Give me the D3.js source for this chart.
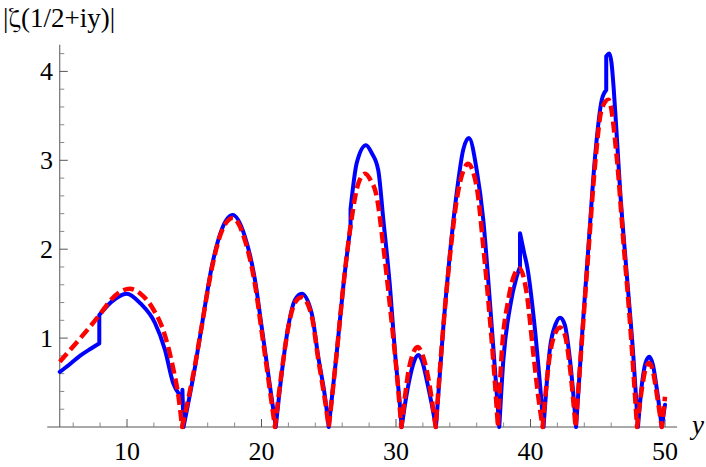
<!DOCTYPE html>
<html>
<head>
<meta charset="utf-8">
<script src="https://cdn.jsdelivr.net/npm/d3@7"></script>
<style>
  html, body { margin: 0; padding: 0; background: #fff; }
  svg { display: block; }
</style>
</head>
<body>
<svg id="chart" width="706" height="467"></svg>
<script>
// ---- data ----
// blue (solid) curve; equal consecutive x values mark a vertical jump
const blueX = [5, 5.7, 6.5, 7.3, 7.94, 7.94, 8.86, 9.98, 11.0, 12.08, 12.82, 13.44, 13.87, 14.12, 14.12, 14.2,
  15.06, 15.55, 16.3, 17.04, 17.86, 18.77, 19.52, 20.01, 20.5, 21.06,
  21.5, 21.99, 22.49, 22.99, 23.73, 24.22, 24.72, 25.0,
  25.59, 26.08, 26.62, 26.62, 27.08, 27.77, 28.2, 28.68, 29.06, 29.55, 29.93, 30.3, 30.42,
  30.75, 31.05, 31.35, 31.66, 31.97, 32.28, 32.6, 32.97,
  33.52, 34.01, 34.51, 35.0, 35.42, 36.0, 36.49, 36.99, 37.36, 37.68,
  37.98, 38.48, 38.97, 39.22, 39.22, 39.54, 39.76, 40.26, 40.74, 40.97,
  41.46, 41.85, 42.2, 42.55, 42.94, 43.39,
  43.81, 44.31, 44.8, 45.3, 45.63, 45.63, 45.87, 46.02, 46.18, 46.38, 46.66, 47.15, 47.65, 47.99,
  48.3, 48.55, 48.83, 49.1, 49.4, 49.76, 50.0];
const blueY = [0.62, 0.70, 0.80, 0.88, 0.94, 1.26, 1.41, 1.50, 1.39, 1.17, 0.87, 0.49, 0.37, 0.33, 0.42, 0,
  0.68, 1.13, 1.80, 2.22, 2.385, 2.14, 1.65, 1.13, 0.60, 0,
  0.60, 1.13, 1.43, 1.50, 1.28, 0.79, 0.34, 0,
  0.83, 1.58, 2.26, 2.45, 2.97, 3.17, 3.08, 2.89, 2.33, 1.58, 0.83, 0.23, 0,
  0.33, 0.57, 0.74, 0.81, 0.73, 0.53, 0.30, 0,
  1.13, 1.95, 2.63, 3.12, 3.25, 2.89, 2.33, 1.39, 0.64, 0,
  0.75, 1.35, 1.69, 1.80, 2.18, 1.95, 1.80, 1.20, 0.42, 0,
  0.90, 1.15, 1.23, 1.15, 0.75, 0,
  0.98, 2.03, 3.04, 3.68, 3.79, 4.17, 4.20, 4.10, 3.82, 3.36, 2.67, 1.73, 0.79, 0,
  0.50, 0.72, 0.79, 0.70, 0.42, 0, 0.25];

// red (dashed) curve
const redX = [5, 8.0, 8.86, 10.2, 11.0, 11.85, 12.84, 13.46, 13.83, 14.1,
  15.06, 15.55, 16.3, 17.04, 17.86, 18.77, 19.52, 20.01, 20.5, 21.0,
  21.5, 21.99, 22.49, 22.99, 23.73, 24.22, 24.72, 25.0,
  25.59, 26.08, 26.62, 27.2, 27.7, 28.1, 28.57, 29.06, 29.56, 30.06, 30.4,
  30.7, 30.92, 31.3, 31.6, 31.95, 32.4, 32.7, 32.95,
  33.52, 34.01, 34.51, 35.0, 35.35, 36.0, 36.49, 36.99, 37.36, 37.58,
  37.86, 38.35, 38.85, 39.17, 39.72, 40.21, 40.58, 40.9,
  41.46, 41.85, 42.2, 42.55, 42.94, 43.35,
  43.81, 44.31, 44.8, 45.3, 45.8, 46.41, 46.9, 47.4, 47.92,
  48.3, 48.55, 48.83, 49.1, 49.4, 49.76, 50.0];
const redY = [0.735, 1.27, 1.44, 1.555, 1.50, 1.35, 1.02, 0.64, 0.34, 0,
  0.70, 1.13, 1.78, 2.20, 2.35, 2.10, 1.60, 1.08, 0.55, 0,
  0.62, 1.12, 1.40, 1.46, 1.25, 0.76, 0.30, 0,
  0.83, 1.58, 2.26, 2.74, 2.85, 2.78, 2.59, 2.03, 1.35, 0.60, 0,
  0.38, 0.62, 0.84, 0.90, 0.82, 0.55, 0.27, 0,
  1.13, 1.92, 2.55, 2.88, 2.96, 2.70, 2.03, 1.20, 0.49, 0,
  0.83, 1.43, 1.73, 1.785, 1.50, 0.83, 0.34, 0,
  0.83, 1.06, 1.12, 1.04, 0.66, 0,
  0.95, 1.98, 2.95, 3.58, 3.68, 3.04, 2.10, 1.17, 0,
  0.45, 0.65, 0.72, 0.63, 0.36, 0, 0.34];

const xMajorTicks = [10, 20, 30, 40, 50];
const xMinorTicks = [6, 8, 12, 14, 16, 18, 22, 24, 26, 28, 32, 34, 36, 38, 42, 44, 46, 48];
const yMajorTicks = [1, 2, 3, 4];
const yMinorTicks = [0.2, 0.4, 0.6, 0.8, 1.2, 1.4, 1.6, 1.8, 2.2, 2.4, 2.6, 2.8, 3.2, 3.4, 3.6, 3.8, 4.2];
const yTitleParts = ["|", "ζ", "(1/2+iy)|"];
const xTitle = "y";

// ---- layout ----
const SERIF = "'Liberation Serif'";
const svg = d3.select("#chart");
const x = d3.scaleLinear().domain([5, 50]).range([59.75, 665]);
const y = d3.scaleLinear().domain([0, 4]).range([427, 71.4]);
const axisColor = "#555";

// axes lines
svg.append("line").attr("x1", x(4.07)).attr("x2", x(50.9)).attr("y1", y(0)).attr("y2", y(0))
  .attr("stroke", axisColor).attr("stroke-width", 1);
svg.append("line").attr("x1", x(5)).attr("x2", x(5)).attr("y1", y(0)).attr("y2", y(4.3))
  .attr("stroke", axisColor).attr("stroke-width", 1);

// x ticks (pointing up)
svg.selectAll(".xmaj").data(xMajorTicks).enter().append("line")
  .attr("x1", d => x(d)).attr("x2", d => x(d)).attr("y1", y(0)).attr("y2", y(0) - 8)
  .attr("stroke", axisColor).attr("stroke-width", 1);
svg.selectAll(".xmin").data(xMinorTicks).enter().append("line")
  .attr("x1", d => x(d)).attr("x2", d => x(d)).attr("y1", y(0)).attr("y2", y(0) - 4.5)
  .attr("stroke", "#888").attr("stroke-width", 1);
svg.selectAll(".xlab").data(xMajorTicks).enter().append("text")
  .attr("x", d => x(d)).attr("y", 459.5).attr("text-anchor", "middle")
  .style("font-family", SERIF).style("font-size", "26px").attr("fill", "#000").text(d => d);

// y ticks (pointing right)
svg.selectAll(".ymaj").data(yMajorTicks).enter().append("line")
  .attr("x1", x(5)).attr("x2", x(5) + 8).attr("y1", d => y(d)).attr("y2", d => y(d))
  .attr("stroke", axisColor).attr("stroke-width", 1);
svg.selectAll(".ymin").data(yMinorTicks).enter().append("line")
  .attr("x1", x(5)).attr("x2", x(5) + 4.5).attr("y1", d => y(d)).attr("y2", d => y(d))
  .attr("stroke", "#888").attr("stroke-width", 1);
svg.selectAll(".ylab").data(yMajorTicks).enter().append("text")
  .attr("x", 53).attr("y", d => y(d) + 8.8).attr("text-anchor", "end")
  .style("font-family", SERIF).style("font-size", "26px").attr("fill", "#000").text(d => d);

// titles
const yt = svg.append("text").attr("x", 3).attr("y", 27)
  .style("font-family", SERIF).style("font-size", "27px").attr("fill", "#000");
yt.append("tspan").text(yTitleParts[0]);
yt.append("tspan").style("font-family", "'FreeSerif'").text(yTitleParts[1]);
yt.append("tspan").text(yTitleParts[2]);
svg.append("text").attr("x", 692).attr("y", 434)
  .style("font-family", SERIF).style("font-size", "27px").style("font-style", "italic")
  .attr("fill", "#000").text(xTitle);

// ---- curves ----
function buildPath(xs, ys) {
  const pts = xs.map((v, i) => [v, ys[i]]);
  const segs = [];
  let cur = [pts[0]];
  for (let i = 1; i < pts.length; i++) {
    if (pts[i][0] === pts[i - 1][0]) { // vertical jump
      segs.push(cur); cur = [pts[i]];
    } else {
      cur.push(pts[i]);
      if (pts[i][1] === 0 && i < pts.length - 1) { segs.push(cur); cur = [pts[i]]; }
    }
  }
  segs.push(cur);
  const line = d3.line().x(d => x(d[0])).y(d => y(d[1])).curve(d3.curveMonotoneX);
  return segs.map((s, k) => {
    const p = line(s);
    return k === 0 ? p : "L" + p.slice(1);
  }).join("");
}

svg.append("path").attr("d", buildPath(blueX, blueY))
  .attr("fill", "none").attr("stroke", "#0000ff").attr("stroke-width", 4)
  .attr("stroke-linejoin", "round").attr("stroke-linecap", "round");

svg.append("path").attr("d", buildPath(redX, redY))
  .attr("fill", "none").attr("stroke", "#ff0000").attr("stroke-width", 4.5)
  .attr("stroke-dasharray", "11,5").attr("stroke-linejoin", "round");
</script>
</body>
</html>
